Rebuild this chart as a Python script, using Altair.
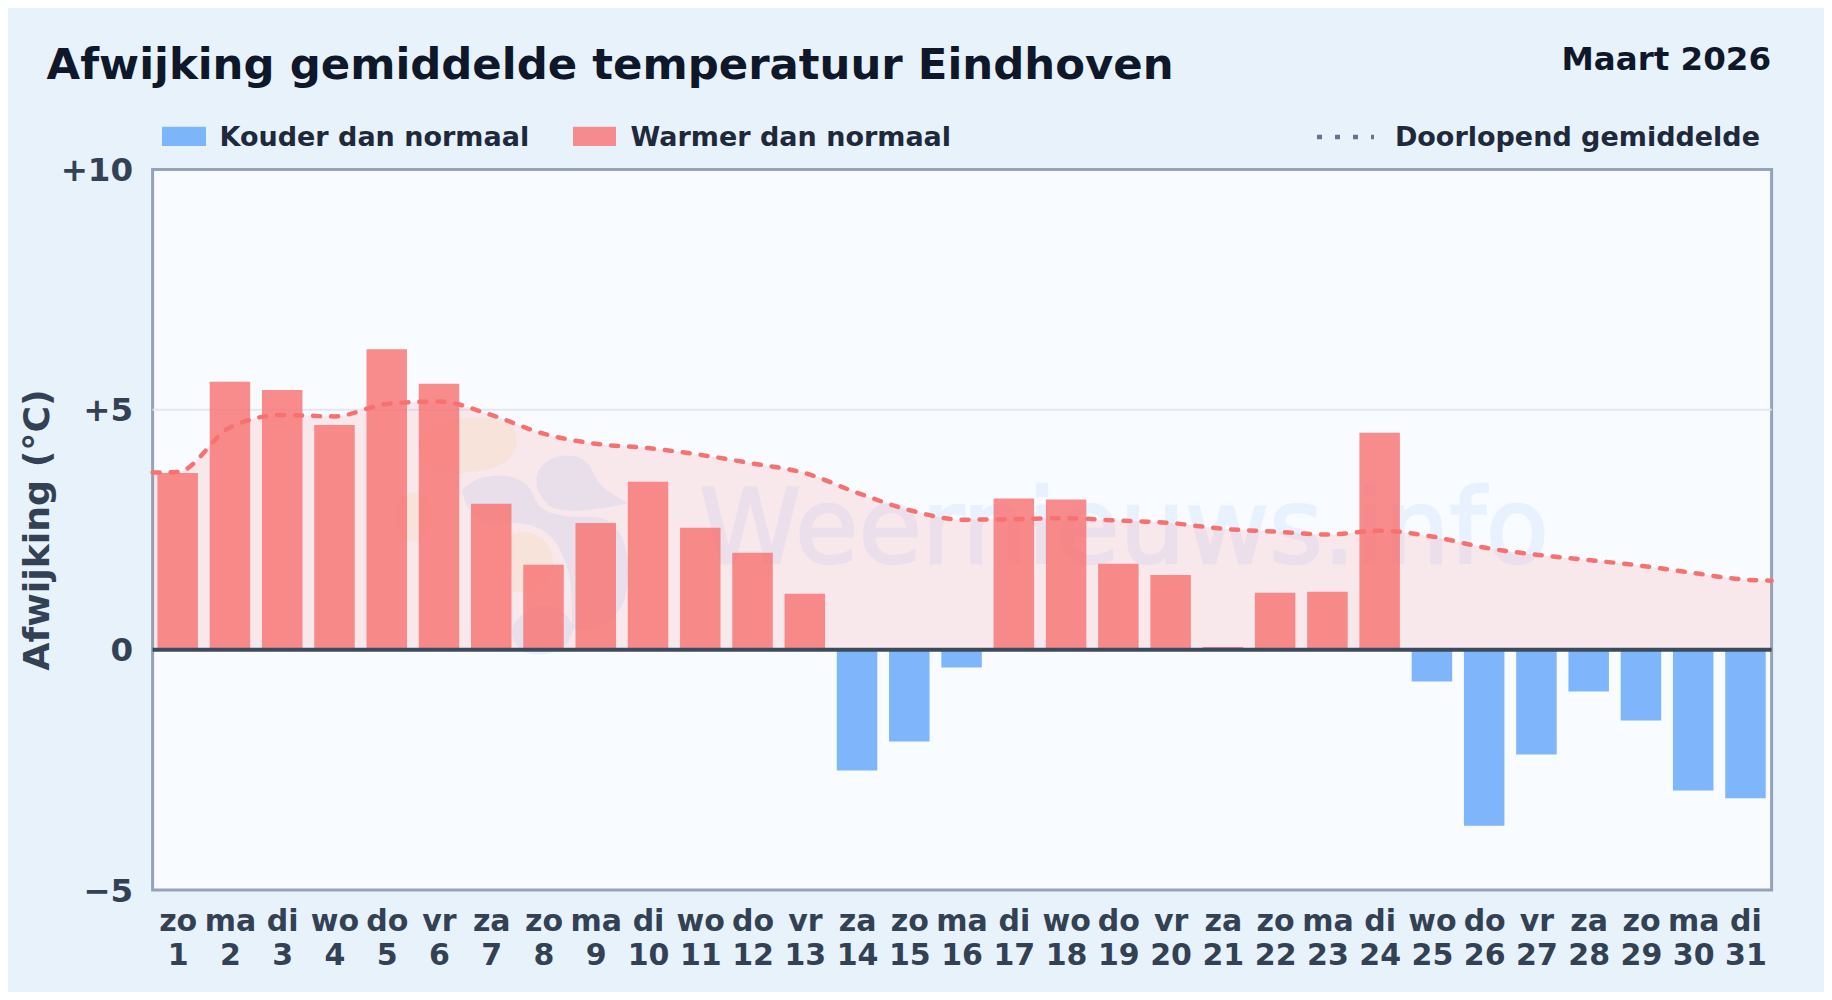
import altair as alt
import pandas as pd

weekdays = ["zo","ma","di","wo","do","vr","za","zo","ma","di","wo","do","vr","za","zo","ma","di","wo","do","vr","za","zo","ma","di","wo","do","vr","za","zo","ma","di"]
days = list(range(1, 32))
deviation = [3.68,5.58,5.41,4.68,6.26,5.54,3.04,1.77,2.64,3.50,2.54,2.02,1.17,-2.51,-1.91,-0.37,3.15,3.13,1.79,1.56,0.06,1.19,1.21,4.52,-0.66,-3.66,-2.18,-0.87,-1.47,-2.93,-3.09]
line_days = [0.52] + days + [31.5]
running = [3.69,3.70,4.63,4.89,4.86,5.12,5.17,4.89,4.50,4.29,4.20,4.06,3.88,3.68,3.27,2.91,2.71,2.72,2.74,2.69,2.64,2.52,2.46,2.40,2.48,2.36,2.13,1.98,1.87,1.75,1.60,1.46,1.44]
y_ticks = [-5, 0, 5, 10]
kinds = ["Kouder dan normaal", "Warmer dan normaal"]
kind_colors = ["#60a5fa", "#f87171"]

bars = pd.DataFrame({"day": days, "val": deviation,
                     "kind": [kinds[1] if v >= 0 else kinds[0] for v in deviation]})
avg = pd.DataFrame({"day": line_days, "val": running})

W, H = 1619, 720.5
OX, OY = 152.6, 169.5   # plot origin in picture coordinates
FONT = "DejaVu Sans"
INK = "#334155"

x_scale = alt.Scale(domain=[0.52, 31.5], nice=False, zero=False, padding=0)
y_scale = alt.Scale(domain=[-5, 10], nice=False, zero=False)
wd = "[" + ",".join(f"'{w}'" for w in weekdays) + "]"

x_enc = alt.X("day:Q", scale=x_scale, title=None,
              axis=alt.Axis(values=days, grid=False, ticks=False, domain=False,
                            labelExpr=f"[{wd}[datum.value-1], datum.label]",
                            labelFont=FONT, labelFontWeight="bold", labelFontSize=30,
                            labelColor=INK, labelPadding=16, labelLineHeight=34,
                            labelOverlap=False, labelBound=False, labelFlush=False))
y_enc = alt.Y("val:Q", scale=y_scale,
              axis=alt.Axis(values=y_ticks, grid=False, ticks=False, domain=False,
                            labelExpr="datum.value > 0 ? '+' + datum.value : (datum.value < 0 ? '\u2212' + abs(datum.value) : '0')",
                            labelFont=FONT, labelFontWeight="bold", labelFontSize=32.5,
                            labelColor=INK, labelPadding=20, labelOffset=1,
                            title="Afwijking (\u00b0C)", titleFont=FONT, titleFontWeight="bold",
                            titleFontSize=36.3, titleColor=INK, titleX=-96, titleY=360))


def px(x):
    return alt.value(x - OX)


def py(y):
    return alt.value(y - OY)


one = pd.DataFrame({"a": [0]})


def blob(path, color, opacity=0.09):
    return alt.Chart(one).mark_point(shape=path, size=4, filled=True, fill=color,
                                     opacity=opacity, strokeWidth=0).encode(
        x=alt.value(-OX), y=alt.value(-OY))


def label(text, x, y, size, color, align="left", **kw):
    return alt.Chart(one).mark_text(text=text, font=FONT, fontWeight="bold", fontSize=size,
                                    color=color, align=align, baseline="alphabetic", **kw).encode(
        x=px(x), y=py(y))


def swatch(x1, x2, color):
    return alt.Chart(one).mark_rect(color=color, opacity=0.8).encode(
        x=px(x1), x2=px(x2), y=py(126.7), y2=py(146))


PEACH = "#fbbf24"
BLUE = "#3b82f6"
logo = [
    blob("M420,440 C430,415 500,410 515,430 C522,450 510,470 470,472 C440,478 415,465 420,440 Z", PEACH),
    blob("M395,515 C395,490 430,480 432,515 C432,545 395,555 395,515 Z", PEACH),
    blob("M510,535 C530,525 555,540 553,565 C552,585 530,595 512,592 Z", PEACH),
    blob("M462,490 C480,470 525,470 533,495 C540,515 560,517 590,517 C615,515 630,540 628,575 C628,610 610,632 573,630 "
         "C570,610 575,580 563,557 C555,535 540,523 513,523 C495,523 470,530 462,490 Z", BLUE),
    blob("M537,475 C545,450 585,450 592,470 C600,490 615,495 628,503 C600,510 560,515 548,505 C540,495 535,490 537,475 Z", BLUE),
    blob("M513,625 C530,600 560,600 573,625 C575,650 540,662 520,650 C512,640 510,635 513,625 Z", BLUE),
]

watermark = alt.Chart(one).mark_text(text="Weernieuws.info", font=FONT, fontSize=103, fill=BLUE,
                                     stroke=BLUE, strokeWidth=2.5,
                                     opacity=0.08, align="center", baseline="alphabetic").encode(
    x=px(1124), y=py(563))

grid5 = alt.Chart(pd.DataFrame({"val": [5]})).mark_rule(color="#e2e8f0", strokeWidth=2).encode(y=y_enc)

area = alt.Chart(avg).mark_area(interpolate="monotone", color="#fb7070", opacity=0.13).encode(
    x=x_enc, y=y_enc, y2=alt.datum(0))

bar = alt.Chart(bars).mark_bar(width=40.5, opacity=0.8, orient="vertical").encode(
    x=x_enc, y=y_enc, y2=alt.datum(0),
    color=alt.Color("kind:N", scale=alt.Scale(domain=kinds, range=kind_colors), legend=None))

zero = alt.Chart(pd.DataFrame({"val": [0]})).mark_rule(color="#3c4a5e", strokeWidth=4).encode(y=y_enc)

line = alt.Chart(avg).mark_line(interpolate="monotone", color="#f87171", strokeWidth=4.5,
                                strokeDash=[7, 11], strokeCap="round").encode(x=x_enc, y=y_enc)

legend_dots = alt.Chart(one).mark_rule(color="#64748b", strokeWidth=4.5, strokeDash=[5, 13]).encode(
    x=px(1317), x2=px(1374), y=py(137))

chart = alt.layer(
    *logo, watermark, grid5, area, bar, zero, line,
    swatch(162, 206, kind_colors[0]), label(kinds[0], 219.5, 145.5, 27, "#1e293b"),
    swatch(573, 616, kind_colors[1]), label(kinds[1], 630.5, 145.5, 27, "#1e293b"),
    legend_dots, label("Doorlopend gemiddelde", 1760, 145.5, 27, "#1e293b", align="right"),
    label("Maart 2026", 1771, 70, 32.5, "#0f172a", align="right"),
).properties(
    width=W, height=H,
    title=alt.TitleParams("Afwijking gemiddelde temperatuur Eindhoven", anchor="start", frame="group",
                          dx=-106, dy=64, offset=20, font=FONT, fontWeight="bold", fontSize=43.4, color="#0f172a"),
    autosize=alt.AutoSizeParams(type="none"),
    padding={"left": OX - 8, "top": OY - 8, "right": 1816 - (OX - 8) - W, "bottom": 984 - (OY - 8) - H},
    background="#e8f2fb",
).configure_view(fill="#f8fbff", stroke="#94a3b8", strokeWidth=3)

chart.save("out.html", embed_options={"renderer": "svg", "actions": False})
